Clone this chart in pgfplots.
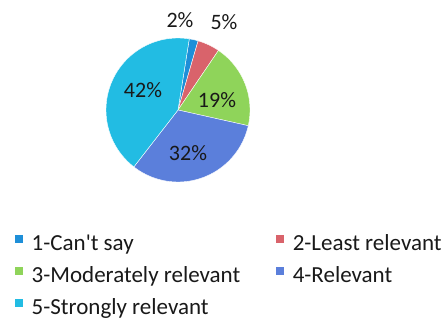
\documentclass[border=0pt]{standalone}
\usepackage{pgfplots}
\pgfplotsset{compat=1.18}
\usepackage{pgfplotstable}
\usepackage{fontspec}
\setmainfont{Carlito}[Ligatures=TeXOff]
\definecolor{c1}{RGB}{30,143,216}
\definecolor{c2}{RGB}{217,99,107}
\definecolor{c3}{RGB}{143,212,90}
\definecolor{c4}{RGB}{91,127,219}
\definecolor{c5}{RGB}{34,188,227}
\definecolor{txt}{RGB}{25,25,25}
\pgfplotstableread{
cat pct
1 2
2 5
3 19
4 32
5 42
}\piedata
\pgfplotstablegetelem{0}{pct}\of\piedata \let\pA\pgfplotsretval
\pgfplotstablegetelem{1}{pct}\of\piedata \let\pB\pgfplotsretval
\pgfplotstablegetelem{2}{pct}\of\piedata \let\pC\pgfplotsretval
\pgfplotstablegetelem{3}{pct}\of\piedata \let\pD\pgfplotsretval
\pgfplotstablegetelem{4}{pct}\of\piedata \let\pE\pgfplotsretval
\pgfmathsetmacro\aO{81}
\pgfmathsetmacro\aA{\aO-3.6*\pA}
\pgfmathsetmacro\aB{\aA-3.6*\pB}
\pgfmathsetmacro\aC{\aB-3.6*\pC}
\pgfmathsetmacro\aD{\aC-3.6*\pD}
\pgfmathsetmacro\aE{\aD-3.6*\pE}
\begin{document}
\begin{tikzpicture}
\useasboundingbox (0,0) rectangle (446bp,324bp);
\begin{axis}[
  at={(0,0)}, anchor=south west,
  scale only axis, width=446bp, height=324bp,
  xmin=0, xmax=446, ymin=0, ymax=324,
  hide axis, clip=false,
  legend columns=2,
  legend cell align=left,
  legend image code/.code={\fill[#1,draw=none] (0bp,2.5bp) rectangle (7.5bp,10bp);},
  legend style={at={(axis cs:15,90)}, anchor=north west, draw=none, fill=none,
    inner sep=0pt, row sep=10bp,
    font=\fontsize{23bp}{27bp}\selectfont\color{txt},
    nodes={inner sep=0pt, text height=16bp, text depth=6bp},
    /tikz/every odd column/.append style={column sep=9bp},
    /tikz/every even column/.append style={column sep=36bp}},
]
\addplot[fill=c1, draw=white, line width=0.4pt, domain=\aA:\aO, samples=20, variable=\t]
  ({178+72*cos(\t)},{214+72*sin(\t)}) -- (axis cs:178,214) -- cycle;
\addlegendentry{1-Can't say}
\addplot[fill=c2, draw=white, line width=0.4pt, domain=\aB:\aA, samples=20, variable=\t]
  ({178+72*cos(\t)},{214+72*sin(\t)}) -- (axis cs:178,214) -- cycle;
\addlegendentry{2-Least relevant}
\addplot[fill=c3, draw=white, line width=0.4pt, domain=\aC:\aB, samples=40, variable=\t]
  ({178+72*cos(\t)},{214+72*sin(\t)}) -- (axis cs:178,214) -- cycle;
\addlegendentry{3-Moderately relevant}
\addplot[fill=c4, draw=white, line width=0.4pt, domain=\aD:\aC, samples=60, variable=\t]
  ({178+72*cos(\t)},{214+72*sin(\t)}) -- (axis cs:178,214) -- cycle;
\addlegendentry{4-Relevant}
\addplot[fill=c5, draw=white, line width=0.4pt, domain=\aE:\aD, samples=80, variable=\t]
  ({178+72*cos(\t)},{214+72*sin(\t)}) -- (axis cs:178,214) -- cycle;
\addlegendentry{5-Strongly relevant}
\addplot[draw=none, mark=none, forget plot, nodes near coords, point meta=explicit symbolic,
  every node near coord/.style={anchor=center, inner sep=0pt, text=txt,
    font=\fontsize{22bp}{25bp}\selectfont}]
  coordinates {(180,304) [2\%] (224,302) [5\%] (217,224) [19\%] (188,171) [32\%] (143,234) [42\%]};
\end{axis}
\end{tikzpicture}
\end{document}
